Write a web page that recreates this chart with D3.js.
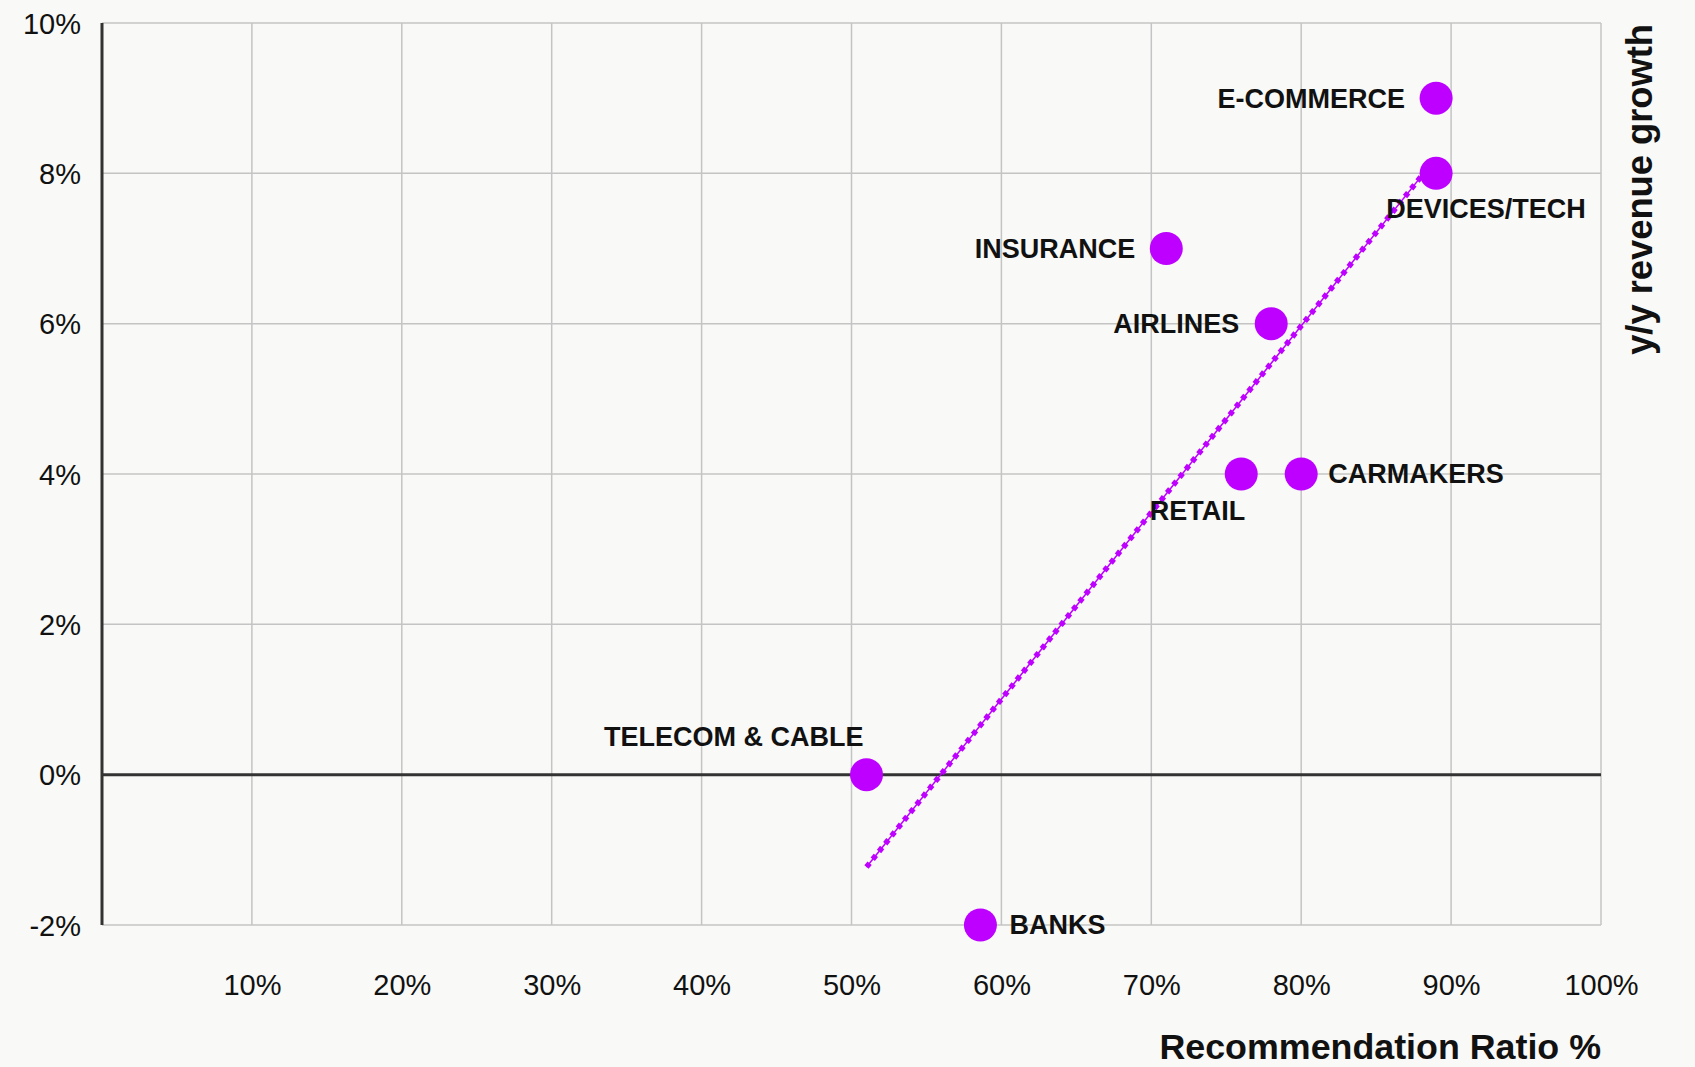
<!DOCTYPE html>
<html>
<head>
<meta charset="utf-8">
<script src="https://cdn.jsdelivr.net/npm/d3@7"></script>
<style>
  html, body { margin: 0; padding: 0; background: #f9f9f7; }
  svg { display: block; font-family: "Liberation Sans", Arial, sans-serif; }
</style>
</head>
<body>
<script>
// sectors with recommendation ratio (%) and y/y revenue growth (%)
const sectors = ["E-COMMERCE", "DEVICES/TECH", "INSURANCE", "AIRLINES", "RETAIL", "CARMAKERS", "TELECOM & CABLE", "BANKS"];
const recRatio = [89, 89, 71, 78, 76, 80, 51, 58.6];
const revGrowth = [9, 8, 7, 6, 4, 4, 0, -2];
const xTicks = [10, 20, 30, 40, 50, 60, 70, 80, 90, 100];
const yTicks = [-2, 0, 2, 4, 6, 8, 10];

// where each label sits relative to its dot
const labelPos = {
  "E-COMMERCE": { anchor: "end", dx: -31, dy: 0 },
  "DEVICES/TECH": { anchor: "middle", dx: 50, dy: 35 },
  "INSURANCE": { anchor: "end", dx: -31, dy: 0 },
  "AIRLINES": { anchor: "end", dx: -32, dy: 0 },
  "RETAIL": { anchor: "end", dx: 4, dy: 37 },
  "CARMAKERS": { anchor: "start", dx: 27, dy: 0 },
  "TELECOM & CABLE": { anchor: "end", dx: -3, dy: -38 },
  "BANKS": { anchor: "start", dx: 29, dy: 0 },
};

const data = sectors.map((s, i) => ({ name: s, x: recRatio[i], y: revGrowth[i] }));

const W = 1695, H = 1067;
const margin = { top: 23, right: 94, bottom: 142, left: 102 };
const width = W - margin.left - margin.right;
const height = H - margin.top - margin.bottom;
const purple = "#bd00ff";

const svg = d3.select("body").append("svg").attr("width", W).attr("height", H);
const g = svg.append("g").attr("transform", `translate(${margin.left},${margin.top})`);

const x = d3.scaleLinear().domain([0, 100]).range([0, width]);
const y = d3.scaleLinear().domain([-2, 10]).range([height, 0]);

// grid lines
g.append("g")
  .selectAll("line")
  .data(xTicks)
  .join("line")
  .attr("x1", (d) => x(d)).attr("x2", (d) => x(d))
  .attr("y1", 0).attr("y2", height)
  .attr("stroke", "#c4c4c4").attr("stroke-width", 1.5);

g.append("g")
  .selectAll("line")
  .data(yTicks.filter((d) => d !== 0))
  .join("line")
  .attr("x1", 0).attr("x2", width)
  .attr("y1", (d) => y(d)).attr("y2", (d) => y(d))
  .attr("stroke", "#c4c4c4").attr("stroke-width", 1.5);

// zero line and left axis
g.append("line")
  .attr("x1", 0).attr("x2", width)
  .attr("y1", y(0)).attr("y2", y(0))
  .attr("stroke", "#333").attr("stroke-width", 3);
g.append("line")
  .attr("x1", 0).attr("x2", 0)
  .attr("y1", 0).attr("y2", height)
  .attr("stroke", "#333").attr("stroke-width", 3);

// axes labels via d3 axes, domain and tick lines hidden
const fmt = (d) => d + "%";
const yAxis = g.append("g")
  .call(d3.axisLeft(y).tickValues(yTicks).tickFormat(fmt).tickSize(0).tickPadding(21));
const xAxis = g.append("g")
  .attr("transform", `translate(0,${height})`)
  .call(d3.axisBottom(x).tickValues(xTicks).tickFormat(fmt).tickSize(0).tickPadding(60));
[yAxis, xAxis].forEach((a) => {
  a.select(".domain").remove();
  a.selectAll("text")
    .attr("font-family", "Liberation Sans, Arial, sans-serif")
    .attr("font-size", 29)
    .attr("fill", "#111")
    .attr("dy", "0.35em");
});

// axis titles
svg.append("text")
  .attr("x", margin.left + width)
  .attr("y", 1059)
  .attr("text-anchor", "end")
  .attr("font-size", 35.8)
  .attr("font-weight", "bold")
  .attr("fill", "#111")
  .text("Recommendation Ratio %");

svg.append("text")
  .attr("transform", `translate(1652,${margin.top + 1}) rotate(-90)`)
  .attr("text-anchor", "end")
  .attr("font-size", 36.3)
  .attr("font-weight", "bold")
  .attr("fill", "#111")
  .text("y/y revenue growth");

// least squares trend line across the data range
const mx = d3.mean(data, (d) => d.x), my = d3.mean(data, (d) => d.y);
const slope = d3.sum(data, (d) => (d.x - mx) * (d.y - my)) / d3.sum(data, (d) => (d.x - mx) ** 2);
const ends = d3.extent(data, (d) => d.x).map((v) => ({ x: v, y: my + slope * (v - mx) }));
const line = d3.line().x((d) => x(d.x)).y((d) => y(d.y));
g.append("path").attr("d", line(ends))
  .attr("stroke", purple).attr("stroke-width", 1.5).attr("fill", "none");
g.append("path").attr("d", line(ends))
  .attr("stroke", purple).attr("stroke-width", 5.5).attr("fill", "none")
  .attr("stroke-dasharray", "5,5");

// dots
g.append("g")
  .selectAll("circle")
  .data(data)
  .join("circle")
  .attr("cx", (d) => x(d.x))
  .attr("cy", (d) => y(d.y))
  .attr("r", 16.5)
  .attr("fill", purple);

// labels
g.append("g")
  .selectAll("text")
  .data(data)
  .join("text")
  .attr("x", (d) => x(d.x) + labelPos[d.name].dx)
  .attr("y", (d) => y(d.y) + labelPos[d.name].dy)
  .attr("dy", "0.35em")
  .attr("text-anchor", (d) => labelPos[d.name].anchor)
  .attr("font-size", 27)
  .attr("font-weight", "bold")
  .attr("fill", "#111")
  .text((d) => d.name);
</script>
</body>
</html>
